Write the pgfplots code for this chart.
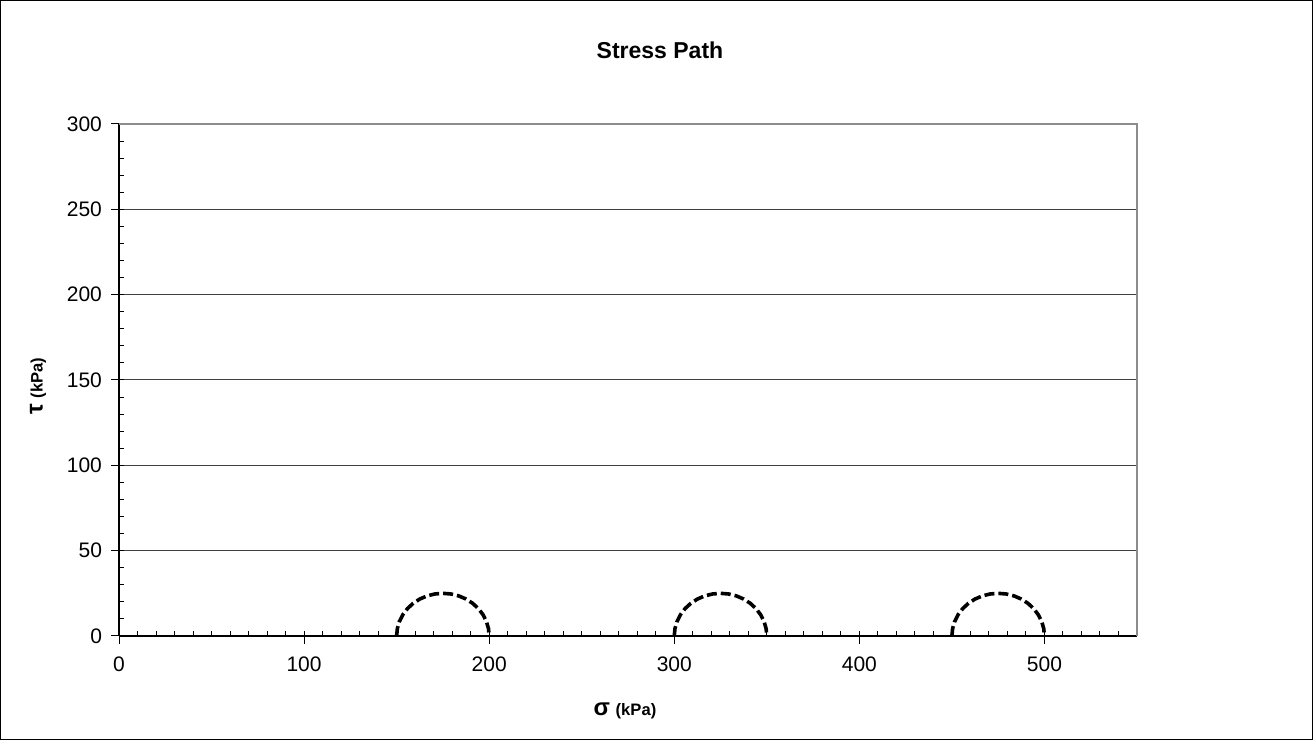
\documentclass[border=0pt]{standalone}
\usepackage{fontspec}
\setmainfont{Liberation Sans}
\usepackage{pgfplots}
\pgfplotsset{compat=1.18}

% Mohr circles: centre 175/325/475, radius 25, every 10 degrees
\begin{document}
\begin{tikzpicture}[x=1pt,y=1pt]
\useasboundingbox (0,0) rectangle (656.5,370);
\draw[black, line width=0.6pt] (0.3,0.3) rectangle (656.2,369.7);
\node[font=\fontsize{11.5}{13}\selectfont\bfseries] at (330,345) {Stress Path};
\begin{axis}[
    at={(59.5pt,52pt)}, anchor=origin,
    scale only axis,
    width=509pt, height=256pt,
    xmin=0, xmax=550, ymin=0, ymax=300,
    xtick={0,100,...,500}, ytick={0,50,...,300},
    minor xtick={0,10,...,550}, minor ytick={0,10,...,300},
    axis x line*=bottom, axis y line*=left,
    axis line style={-, black, line width=0.6pt},
    tick align=inside,
    major tick length=6pt, minor tick length=2.5pt,
    tick style={black, line width=0.5pt},
    every major x tick/.append style={yshift=-4pt},
    every major y tick/.append style={xshift=-4pt},
    ymajorgrids, major grid style={black!75, line width=0.5pt},
    tick label style={font=\fontsize{10.5}{12}\selectfont},
    /pgf/number format/assume math mode=true,
    yticklabel style={xshift=-5pt},
    xticklabel style={yshift=-7pt},
    clip=false,
]
\draw[black!45, line width=1pt] (rel axis cs:0,1) -- (rel axis cs:1,1) -- (rel axis cs:1,0);
\addplot[black, line width=1.8pt, dash pattern=on 5pt off 2pt] coordinates {
 (150,0) (150.38,4.34) (151.51,8.55) (153.35,12.5) (155.85,16.07) (158.93,19.15)
 (162.5,21.65) (166.45,23.49) (170.66,24.62) (175,25) (179.34,24.62) (183.55,23.49)
 (187.5,21.65) (191.07,19.15) (194.15,16.07) (196.65,12.5) (198.49,8.55) (199.62,4.34) (200,0)
};
\addplot[black, line width=1.8pt, dash pattern=on 5pt off 2pt] coordinates {
 (300,0) (300.38,4.34) (301.51,8.55) (303.35,12.5) (305.85,16.07) (308.93,19.15)
 (312.5,21.65) (316.45,23.49) (320.66,24.62) (325,25) (329.34,24.62) (333.55,23.49)
 (337.5,21.65) (341.07,19.15) (344.15,16.07) (346.65,12.5) (348.49,8.55) (349.62,4.34) (350,0)
};
\addplot[black, line width=1.8pt, dash pattern=on 5pt off 2pt] coordinates {
 (450,0) (450.38,4.34) (451.51,8.55) (453.35,12.5) (455.85,16.07) (458.93,19.15)
 (462.5,21.65) (466.45,23.49) (470.66,24.62) (475,25) (479.34,24.62) (483.55,23.49)
 (487.5,21.65) (491.07,19.15) (494.15,16.07) (496.65,12.5) (498.49,8.55) (499.62,4.34) (500,0)
};
\end{axis}
\node[rotate=90, font=\bfseries] at (19,177) {{\fontsize{12}{13}\selectfont τ} {\fontsize{8.3}{9}\selectfont (kPa)}};
\node[font=\bfseries] at (312.5,14.5) {{\fontsize{12}{13}\selectfont σ} {\fontsize{8.3}{9}\selectfont (kPa)}};
\end{tikzpicture}
\end{document}
